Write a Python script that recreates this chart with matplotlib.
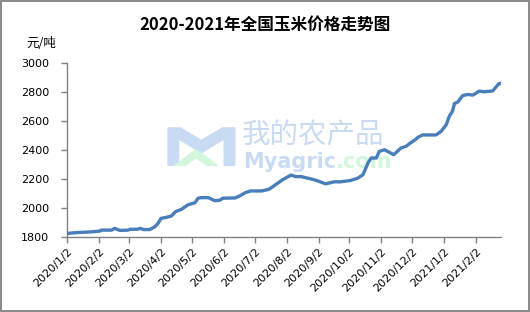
import numpy as np
import pandas as pd
import matplotlib
matplotlib.use("Agg")
import matplotlib.pyplot as plt
from matplotlib.patches import Polygon

plt.rcParams['font.family'] = ['Noto Sans CJK SC', 'DejaVu Sans']

# corn price, yuan/ton
dates = ["2020-01-02", "2020-01-09", "2020-01-27", "2020-02-03", "2020-02-04",
         "2020-02-14", "2020-02-17", "2020-02-22", "2020-03-01", "2020-03-03",
         "2020-03-10", "2020-03-13", "2020-03-16", "2020-03-22", "2020-03-27",
         "2020-03-30", "2020-04-02", "2020-04-07", "2020-04-12", "2020-04-16",
         "2020-04-22", "2020-04-28", "2020-05-05", "2020-05-08", "2020-05-11",
         "2020-05-18", "2020-05-24", "2020-05-29", "2020-06-01", "2020-06-13",
         "2020-06-18", "2020-06-23", "2020-06-28", "2020-07-09", "2020-07-16",
         "2020-07-22", "2020-07-29", "2020-08-06", "2020-08-11", "2020-08-16",
         "2020-08-29", "2020-09-09", "2020-09-17", "2020-09-23", "2020-10-03",
         "2020-10-10", "2020-10-15", "2020-10-20", "2020-10-23", "2020-10-28",
         "2020-10-31", "2020-11-05", "2020-11-14", "2020-11-21", "2020-11-26",
         "2020-12-01", "2020-12-05", "2020-12-08", "2020-12-12", "2020-12-25",
         "2020-12-30", "2021-01-04", "2021-01-07", "2021-01-10", "2021-01-12",
         "2021-01-15", "2021-01-20", "2021-01-25", "2021-01-30", "2021-02-05",
         "2021-02-10", "2021-02-18", "2021-02-24", "2021-02-26"]
prices = [1823, 1828, 1835, 1840, 1846,
          1846, 1858, 1844, 1846, 1852,
          1852, 1858, 1850, 1850, 1869,
          1892, 1927, 1934, 1943, 1973,
          1990, 2020, 2035, 2066, 2070,
          2070, 2049, 2052, 2066, 2068,
          2084, 2105, 2116, 2116, 2128,
          2158, 2193, 2225, 2215, 2215,
          2193, 2165, 2179, 2179, 2188,
          2204, 2227, 2308, 2343, 2343,
          2389, 2400, 2366, 2412, 2424,
          2451, 2470, 2488, 2502, 2502,
          2527, 2573, 2631, 2666, 2719,
          2728, 2774, 2781, 2777, 2804,
          2800, 2805, 2855, 2858]
tick_dates = ["2020-01-02", "2020-02-02", "2020-03-02", "2020-04-02", "2020-05-02",
              "2020-06-02", "2020-07-02", "2020-08-02", "2020-09-02", "2020-10-02",
              "2020-11-02", "2020-12-02", "2021-01-02", "2021-02-02"]
tick_labels = ["2020/1/2", "2020/2/2", "2020/3/2", "2020/4/2", "2020/5/2",
               "2020/6/2", "2020/7/2", "2020/8/2", "2020/9/2", "2020/10/2",
               "2020/11/2", "2020/12/2", "2021/1/2", "2021/2/2"]

x = pd.to_datetime(dates)
ticks = pd.to_datetime(tick_dates)

fig = plt.figure(figsize=(5.3, 3.12), dpi=100, linewidth=1.5, edgecolor='#8c8c8c')
ax = fig.add_axes([0.127, 0.241, 0.818, 0.558])
ax.patch.set_alpha(0)

# watermark (logo + site name)
wm_blue = '#c9dbf3'
wm_green = '#d3f7dc'
fig.patches.append(Polygon([[0.317, 0.59], [0.317, 0.47], [0.337, 0.47], [0.337, 0.555],
                            [0.38, 0.51], [0.423, 0.555], [0.423, 0.47], [0.443, 0.47],
                            [0.443, 0.59], [0.42, 0.59], [0.38, 0.55], [0.34, 0.59]],
                           closed=True, transform=fig.transFigure, color=wm_blue, zorder=0))
fig.patches.append(Polygon([[0.33, 0.47], [0.37, 0.52], [0.41, 0.47], [0.39, 0.47],
                            [0.37, 0.495], [0.35, 0.47]],
                           closed=True, transform=fig.transFigure, color=wm_green, zorder=0))
fig.text(0.456, 0.565, '我的农产品', fontsize=20.5, color=wm_blue, va='center', ha='left', zorder=0)
t_my = fig.text(0.458, 0.48, 'Myagric', fontsize=15, color=wm_blue, va='center', ha='left',
                fontweight='bold', family=['DejaVu Sans'], zorder=0)
ax.annotate('.com', xy=(1.0, 0.5), xycoords=t_my, fontsize=15, color=wm_green,
            va='center', ha='left', fontweight='bold', family=['DejaVu Sans'],
            annotation_clip=False, zorder=0)

ax.plot(x, prices, color='#4a7ebb', linewidth=2.4, solid_capstyle='round', zorder=3)

ax.set_xlim(x[0], x[-1])
ax.set_ylim(1800, 3000)
ax.set_yticks(np.arange(1800, 3001, 200))
ax.set_xticks(ticks)
ax.set_xticklabels(tick_labels, rotation=45, ha='right', rotation_mode='anchor',
                   family=['DejaVu Sans'])
ax.tick_params(axis='both', labelsize=8, labelcolor='black', color='#808080',
               length=4, width=1, direction='out')
ax.tick_params(axis='x', pad=3)
ax.tick_params(axis='y', pad=9)
for lab in ax.get_yticklabels():
    lab.set_family(['DejaVu Sans'])

for s in ['top', 'right']:
    ax.spines[s].set_visible(False)
for s in ['left', 'bottom']:
    ax.spines[s].set_color('#808080')
    ax.spines[s].set_linewidth(1)

fig.text(0.5, 0.92, '2020-2021年全国玉米价格走势图', ha='center', va='center',
         fontsize=12, fontweight='bold')
fig.text(0.05, 0.862, '元/吨', ha='left', va='center', fontsize=9)

fig.savefig('out.png', dpi=100)
